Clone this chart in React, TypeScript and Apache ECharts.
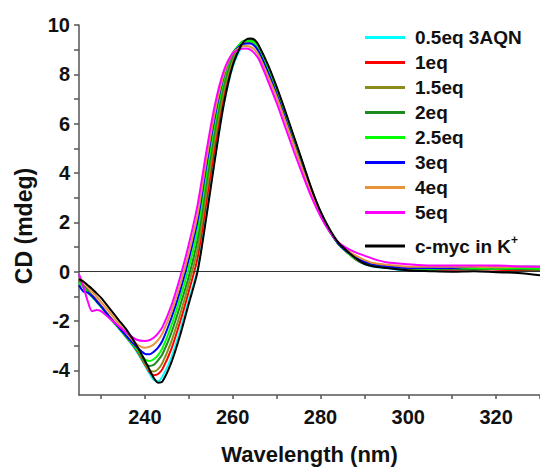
import React, { useEffect, useRef } from "react";
import * as echarts from "echarts";

const wavelength = [225,226,227,228,229,230,232,234,236,238,240,241,242,243,244,246,248,250,252,254,256,258,260,262,263,264,265,266,268,270,272,274,276,278,280,282,284,286,288,290,292,295,300,305,310,315,320,325,330];

const seriesNames = ["0.5eq 3AQN","1eq","1.5eq","2eq","2.5eq","3eq","4eq","5eq","c-myc in K+"];
const seriesColors = ["#00FFFF","#FF0000","#8C8C1A","#1E8A1E","#00FF00","#0000FF","#E8923A","#FF00FF","#000000"];

const eq05 = [-0.4,-0.6,-0.8,-1.0,-1.2,-1.42,-1.85,-2.28,-2.72,-3.2,-3.8,-4.12,-4.38,-4.43,-4.25,-3.5,-2.4,-1.15,0.1,2.3,4.65,6.8,8.3,9.1,9.25,9.3,9.25,9.05,8.35,7.45,6.45,5.4,4.35,3.3,2.4,1.7,1.15,0.8,0.5,0.3,0.2,0.15,0.05,0.08,0.1,0.12,0.1,0.12,0.1];
const eq1 = [-0.35,-0.55,-0.75,-0.95,-1.15,-1.38,-1.82,-2.25,-2.7,-3.15,-3.75,-4.05,-4.2,-4.15,-3.95,-3.15,-2.05,-0.8,0.55,2.8,5.1,7.1,8.5,9.2,9.35,9.4,9.35,9.1,8.35,7.45,6.45,5.4,4.35,3.3,2.4,1.7,1.15,0.8,0.5,0.32,0.22,0.18,0.12,0.1,0.08,0.1,0.08,0.05,0.05];
const eq15 = [-0.35,-0.55,-0.75,-0.97,-1.17,-1.4,-1.83,-2.25,-2.68,-3.12,-3.72,-4.0,-4.05,-3.95,-3.7,-2.85,-1.75,-0.5,0.9,3.2,5.45,7.35,8.6,9.2,9.28,9.3,9.25,9.0,8.25,7.4,6.4,5.35,4.3,3.3,2.4,1.7,1.15,0.8,0.52,0.35,0.25,0.2,0.15,0.12,0.12,0.15,0.12,0.15,0.15];
const eq2 = [-0.4,-0.6,-0.8,-1.0,-1.2,-1.42,-1.85,-2.27,-2.68,-3.1,-3.65,-3.82,-3.78,-3.6,-3.35,-2.5,-1.4,-0.2,1.3,3.6,5.8,7.6,8.75,9.3,9.38,9.4,9.33,9.1,8.3,7.4,6.4,5.35,4.3,3.3,2.4,1.7,1.15,0.8,0.52,0.35,0.25,0.2,0.12,0.1,0.12,0.1,0.12,0.1,0.08];
const eq25 = [-0.45,-0.65,-0.85,-1.02,-1.22,-1.43,-1.87,-2.28,-2.68,-3.08,-3.55,-3.62,-3.55,-3.38,-3.1,-2.2,-1.1,0.15,1.65,3.95,6.1,7.8,8.85,9.28,9.35,9.35,9.28,9.05,8.25,7.35,6.35,5.3,4.25,3.25,2.35,1.65,1.15,0.8,0.52,0.35,0.28,0.22,0.15,0.12,0.15,0.15,0.12,0.15,0.12];
const eq3 = [-0.55,-0.8,-0.85,-1.0,-1.2,-1.4,-1.85,-2.25,-2.65,-3.02,-3.33,-3.35,-3.25,-3.08,-2.8,-1.9,-0.8,0.5,2.05,4.3,6.35,7.95,8.85,9.2,9.25,9.25,9.15,8.9,8.1,7.2,6.2,5.15,4.15,3.15,2.3,1.65,1.15,0.82,0.58,0.4,0.3,0.22,0.15,0.15,0.15,0.2,0.18,0.2,0.2];
const eq4 = [-0.25,-0.4,-0.6,-0.8,-1.0,-1.22,-1.65,-2.1,-2.52,-2.92,-3.08,-3.05,-2.95,-2.78,-2.5,-1.65,-0.55,0.75,2.3,4.5,6.5,8.0,8.85,9.12,9.15,9.12,9.0,8.75,7.95,7.1,6.1,5.1,4.1,3.15,2.3,1.65,1.2,0.88,0.65,0.48,0.35,0.28,0.2,0.2,0.2,0.2,0.18,0.2,0.2];
const eq5 = [-0.1,-0.6,-1.2,-1.6,-1.55,-1.6,-1.9,-2.2,-2.5,-2.75,-2.81,-2.78,-2.68,-2.5,-2.25,-1.4,-0.25,1.1,2.7,4.85,6.8,8.15,8.85,9.03,9.05,9.0,8.85,8.6,7.75,6.85,5.85,4.85,3.9,3.0,2.25,1.65,1.2,0.95,0.78,0.65,0.52,0.38,0.3,0.25,0.25,0.25,0.25,0.22,0.2];
const cmyc = [-0.3,-0.4,-0.55,-0.7,-0.88,-1.05,-1.5,-1.95,-2.4,-2.95,-3.6,-3.95,-4.3,-4.5,-4.45,-3.7,-2.6,-1.3,0.0,2.2,4.6,6.8,8.35,9.2,9.4,9.45,9.4,9.15,8.4,7.5,6.5,5.45,4.4,3.35,2.45,1.75,1.2,0.85,0.55,0.32,0.22,0.15,0.05,0.02,0.0,0.02,-0.02,-0.05,-0.15];

const allValues = [eq05, eq1, eq15, eq2, eq25, eq3, eq4, eq5, cmyc];

const xTickValues = [230,240,250,260,270,280,290,300,310,320,330];
const xLabelValues = [240,260,280,300,320];
const yTickValues = [-4,-3,-2,-1,0,1,2,3,4,5,6,7,8,9,10];
const yLabelValues = [-4,-2,0,2,4,6,8,10];

const xTitle = "Wavelength (nm)";
const yTitle = "CD (mdeg)";

const FONT = "'Liberation Sans', Arial, sans-serif";

export default function App() {
  const ref = useRef<HTMLDivElement>(null);
  useEffect(() => {
    if (!ref.current) return;
    const chart = echarts.init(ref.current, null, { renderer: "svg" });
    const series: any[] = allValues.map((vals, i) => ({
      name: seriesNames[i],
      type: "line",
      data: wavelength.map((w, j) => [w, vals[j]]),
      symbol: "none",
      smooth: 0.3,
      color: seriesColors[i],
      lineStyle: { width: 2, color: seriesColors[i] },
      z: 3 + i,
    }));
    series.push({
      name: "zero",
      type: "line",
      data: [],
      symbol: "none",
      silent: true,
      markLine: {
        silent: true,
        symbol: "none",
        label: { show: false },
        lineStyle: { color: "#333", width: 1, type: "solid" },
        data: [{ yAxis: 0 }],
      },
      z: 2,
    });
    chart.setOption({
      animation: false,
      backgroundColor: "#fff",
      grid: { left: 79, right: 0, top: 25, bottom: 73 },
      graphic: [
        {
          type: "text",
          x: 24,
          y: 226,
          rotation: Math.PI / 2,
          style: {
            text: yTitle,
            fontFamily: FONT,
            fontWeight: "bold",
            fontSize: 23,
            fill: "#111",
            textAlign: "center",
            textVerticalAlign: "middle",
          },
        },
      ],
      legend: [
        {
          data: seriesNames.slice(0, 8),
          orient: "vertical",
          left: 360,
          top: 23,
          icon: "rect",
          itemWidth: 40,
          itemHeight: 3,
          itemGap: 6,
          textStyle: { fontFamily: FONT, fontWeight: "bold", fontSize: 19, lineHeight: 19, color: "#111", padding: [0, 0, 0, 5] },
        },
        {
          data: ["c-myc in K+"],
          orient: "vertical",
          left: 360,
          top: 229,
          icon: "rect",
          itemWidth: 40,
          itemHeight: 3,
          formatter: () => "{a|c-myc in K}{b|+}",
          textStyle: {
            fontFamily: FONT, fontWeight: "bold", fontSize: 19, color: "#111", padding: [0, 0, 0, 5],
            rich: {
              a: { fontFamily: FONT, fontWeight: "bold", fontSize: 19, color: "#111" },
              b: { fontFamily: FONT, fontWeight: "bold", fontSize: 12, color: "#111", padding: [0, 0, 12, 0] },
            },
          },
        },
      ],
      xAxis: {
        type: "value",
        min: 225,
        max: 330,
        name: xTitle,
        nameLocation: "middle",
        nameGap: 48,
        nameTextStyle: { fontFamily: FONT, fontWeight: "bold", fontSize: 22, color: "#111" },
        axisLine: { show: true, onZero: false, lineStyle: { color: "#555", width: 1.5 } },
        axisTick: { show: true, inside: false, length: 4, customValues: xTickValues, lineStyle: { color: "#555", width: 1.5 } },
        axisLabel: { customValues: xLabelValues, margin: 12, fontFamily: FONT, fontWeight: "bold", fontSize: 20, color: "#111" },
        splitLine: { show: false },
      },
      yAxis: {
        type: "value",
        min: -5,
        max: 10,
        axisLine: { show: true, onZero: false, lineStyle: { color: "#555", width: 1.5 } },
        axisTick: { show: true, inside: false, length: 5, customValues: yTickValues, lineStyle: { color: "#555", width: 1.5 } },
        axisLabel: { customValues: yLabelValues, margin: 9, fontFamily: FONT, fontWeight: "bold", fontSize: 20, color: "#111" },
        splitLine: { show: false },
      },
      series,
    });
    return () => chart.dispose();
  }, []);
  return (
    <div
      ref={ref}
      style={{ position: "absolute", left: 0, top: 0, width: 540, height: 470, background: "#fff" }}
    />
  );
}
